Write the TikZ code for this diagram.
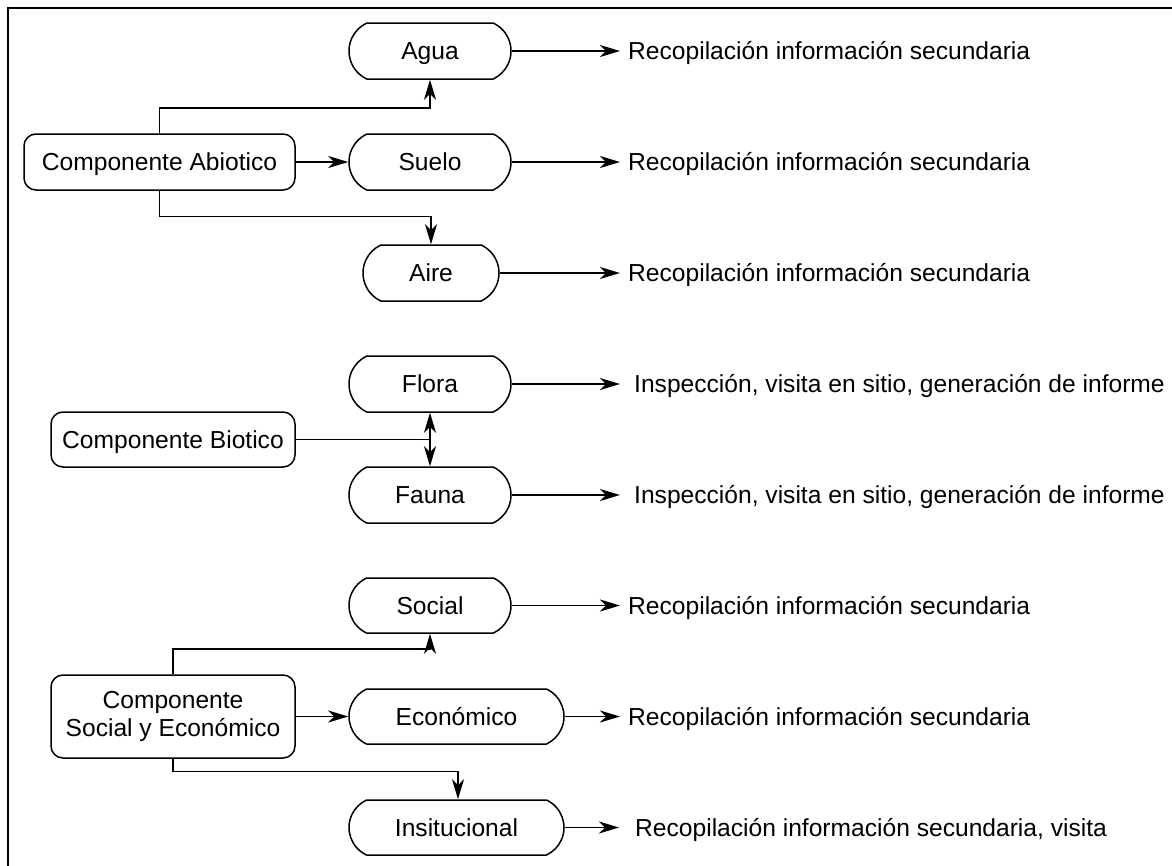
\documentclass[tikz,border=0pt]{standalone}
\usepackage{fontspec}
\setmainfont{Liberation Sans}
\usetikzlibrary{arrows.meta,calc,shapes.misc}

\begin{document}
\begin{tikzpicture}[
  x=1pt, y=-1pt,
  every node/.style={font=\fontsize{24.6}{28}\selectfont},
  term/.style={draw, line width=1.5pt, rounded rectangle, rounded rectangle arc length=130,
               inner sep=0pt, minimum height=56pt, text height=22pt, text depth=4.4pt},
  comp/.style={draw, line width=1.5pt, rounded corners=12pt, inner sep=0pt,
               align=center},
  lbl/.style={anchor=west, inner sep=0pt, text height=22pt, text depth=4.4pt},
  link/.style={line width=1.5pt},
  conn/.style={link, -{Stealth[length=20pt,width=12pt,inset=6pt]}},
  both/.style={link, {Stealth[length=20pt,width=12pt,inset=6pt]}-{Stealth[length=20pt,width=12pt,inset=6pt]}},
]
\useasboundingbox (0,0) rectangle (1172,865);

% frame
\draw[line width=2.5pt] (8,866) -- (8,8) -- (1173,8);

% abiotic component
\node[comp, minimum width=271pt, minimum height=56pt, text height=22pt, text depth=4.4pt]
  (abio) at (159.5,162) {Componente Abiotico};
\node[term, minimum width=162pt] (agua)  at (430,51)  {Agua};
\node[term, minimum width=162pt] (suelo) at (430,162) {Suelo};
\node[term, minimum width=136pt] (aire)  at (431,273) {Aire};

\node[lbl] (lagua)  at (628,51)  {Recopilación información secundaria};
\node[lbl] (lsuelo) at (628,162) {Recopilación información secundaria};
\node[lbl] (laire)  at (628,273) {Recopilación información secundaria};

\draw[conn] (abio.north) |- ($(agua.south)+(0,28)$) -- (agua.south);
\draw[conn] (abio.east) -- (suelo.west);
\draw[conn] (abio.south) |- ($(aire.north)+(0,-28)$) -- (aire.north);

\draw[conn, shorten >=8pt] (agua.east)  -- (lagua.west);
\draw[conn, shorten >=8pt] (suelo.east) -- (lsuelo.west);
\draw[conn, shorten >=8pt] (aire.east)  -- (laire.west);

% biotic component
\node[comp, minimum width=244pt, minimum height=55pt, text height=22pt, text depth=4.4pt]
  (bio) at (173,439.5) {Componente Biotico};
\node[term, minimum width=162pt] (flora) at (430,384) {Flora};
\node[term, minimum width=162pt] (fauna) at (430,495) {Fauna};

\node[lbl] (lflora) at (634,384) {Inspección, visita en sitio, generación de informe};
\node[lbl] (lfauna) at (634,495) {Inspección, visita en sitio, generación de informe};

\draw[link] (bio.east) -- (bio.east -| flora.south);
\draw[both] (flora.south) -- (fauna.north);

\draw[conn, shorten >=14pt] (flora.east) -- (lflora.west);
\draw[conn, shorten >=14pt] (fauna.east) -- (lfauna.west);

% social and economic component
\node[comp, minimum width=244pt, minimum height=83pt]
  (soc) at (173,716.5) {Componente\\Social y Económico};
\node[term, minimum width=162pt, minimum height=55pt] (social) at (430,605.5) {Social};
\node[term, minimum width=215pt, minimum height=55pt] (econ)   at (456.5,716.5) {Económico};
\node[term, minimum width=215pt, minimum height=55pt] (inst)   at (456.5,827.5) {Insitucional};

\node[lbl] (lsocial) at (628,605.5) {Recopilación información secundaria};
\node[lbl] (lecon)   at (628,716.5) {Recopilación información secundaria};
\node[lbl] (linst)   at (635,827.5) {Recopilación información secundaria, visita};

\draw[conn] (soc.north) |- ($(social.south)+(0,15)$) -- (social.south);
\draw[conn] (soc.east) -- (econ.west);
\draw[conn] (soc.south) |- ($(inst.north)+(1.5,-28)$) -- ($(inst.north)+(1.5,0)$);

\draw[conn, shorten >=8pt]  (social.east) -- (lsocial.west);
\draw[conn, shorten >=8pt]  (econ.east)   -- (lecon.west);
\draw[conn, shorten >=16pt] (inst.east)   -- (linst.west);
\end{tikzpicture}
\end{document}
